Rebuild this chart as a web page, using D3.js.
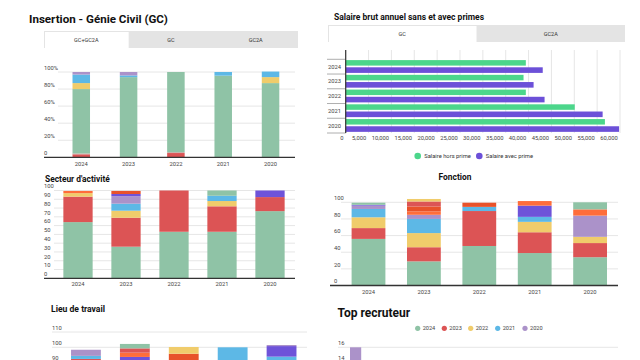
<!DOCTYPE html>
<html><head><meta charset="utf-8">
<script src="https://cdn.jsdelivr.net/npm/d3@7"></script>
<style>body{margin:0;background:#fff}svg{display:block;font-family:Roboto,"Noto Sans",sans-serif}</style>
</head><body><svg id="c" width="640" height="360"></svg>
<script>
// ---------- DATA ----------
const years = ["2024", "2023", "2022", "2021", "2020"];
const C = {green:"#8fc3a6", red:"#dc5455", yellow:"#f0cc6b", blue:"#5db8e6", lpurple:"#ab92c9",
           dpurple:"#6e53d9", orange:"#ff6d3a", orangered:"#e8522a", gray:"#c7a49e"};

// Insertion (percent), bottom -> top
const insertionTabs = ["GC+GC2A", "GC", "GC2A"];
const insRed      = [3.5, 0, 5, 0, 0];
const insOther    = [1, 0, 1, 0, 0];
const insGreen    = [75.5, 94, 94, 95.7, 87];
const insYellow   = [7, 0, 0, 0, 7];
const insBlue     = [10, 2, 0, 4.3, 6.5];
const insPurple   = [3, 4, 0, 0, 0];
const insTicks    = [0, 20, 40, 60, 80, 100];

// Salaire
const salaryTabs = ["GC", "GC2A"];
const salaryHorsPrime = [39400, 38900, 39400, 50100, 56700];
const salaryAvecPrime = [43100, 41100, 43500, 56200, 59800];
const salaryTicks = [0,5000,10000,15000,20000,25000,30000,35000,40000,45000,50000,55000,60000];

// Secteur d'activité, bottom -> top
const secGreen   = [64, 36, 53, 53, 76.5];
const secRed     = [29, 33, 47, 29, 16];
const secYellow  = [4, 8, 0, 6, 0];
const secBlue    = [0, 8, 0, 6, 0];
const secLPurple = [0, 8.5, 0, 0, 0];
const secDPurple = [0, 2.5, 0, 0, 7.5];
const secOrRed   = [0, 3.5, 0, 0, 0];
const secOrange  = [2.5, 0, 0, 0, 0];
const secGreen2  = [0, 0, 0, 6, 0];
const secTicks   = [0,10,20,30,40,50,60,70,80,90,100];

// Fonction, bottom -> top
const fonGreen   = [56, 29, 47.5, 39, 34];
const fonRed     = [13, 17, 42, 25, 17];
const fonYellow  = [13, 17, 0, 12.5, 7.5];
const fonBlue    = [10, 17, 5, 6, 0];
const fonLPurple = [4, 5, 0, 0, 25.5];
const fonDPurple = [1, 0, 0, 13.5, 0];
const fonOrange  = [0, 4, 0, 5.5, 7.5];
const fonOrRed   = [0, 6, 5, 0, 0];
const fonRed2    = [0, 6, 0, 0, 0];
const fonYellow2 = [0, 3, 0, 0, 0];
const fonGreen2  = [2.5, 0, 0, 0, 8.5];
const fonTicks   = [0, 20, 40, 60, 80, 100];

// Lieu de travail, bottom -> top
const lieuGreen   = [55, 45, 50, 40, 50];
const lieuRed     = [37.4, 20, 20, 20, 20];
const lieuOrRed   = [0, 10, 25.8, 0, 0];
const lieuYellow  = [0, 8, 4.4, 0, 0];
const lieuBlue    = [2, 8, 0, 40, 23.9];
const lieuDPurple = [0, 2.7, 0, 0, 6.9];
const lieuLPurple = [4, 0, 0, 0, 0.7];
const lieuOrange  = [0, 2.8, 0, 0, 0];
const lieuRed2    = [0, 2.8, 0, 0, 0];
const lieuGreen2  = [0, 2.9, 0, 0, 0];
const lieuTicks   = [90, 100, 110];   // visible ticks

// Top recruteur (stacked by year)
const recYears = ["2024", "2023", "2022", "2021", "2020"];
const recruteurs = ["Entreprise A", "Entreprise B", "Entreprise C", "Entreprise D", "Entreprise E"];
const rec2024 = [4, 3, 2, 2, 1];
const rec2023 = [3, 2, 2, 1, 1];
const rec2022 = [3, 2, 1, 1, 1];
const rec2021 = [2, 1, 1, 1, 1];
const rec2020 = [4, 2, 1, 1, 1];
const recTicks = [14, 16];            // visible ticks

// ---------- DRAW ----------
const svg = d3.select("#c");
svg.append("rect").attr("width",640).attr("height",360).attr("fill","#fff");
const tickCol = "#444", gridCol = "#e6e6e6", axisCol = "#333";

function title(x, y, txt, size, anchor){
  svg.append("text").attr("x",x).attr("y",y).attr("font-size",size).attr("font-weight","bold")
    .attr("fill","#111").attr("text-anchor",anchor||"start").text(txt);
}
function tabs(x0, x1, y0, y1, labels){
  const g = svg.append("g");
  g.append("rect").attr("x",x0).attr("y",y0).attr("width",x1-x0).attr("height",y1-y0).attr("fill","#e4e4e4");
  const w = (x1-x0)/labels.length;
  labels.forEach((l,i)=>{
    if(i===0) g.append("rect").attr("x",x0+1).attr("y",y0+1).attr("width",w-1).attr("height",y1-y0-1).attr("fill","#fff");
    g.append("text").attr("x",x0+w*i+w/2).attr("y",(y0+y1)/2+2).attr("font-size",5.5)
      .attr("text-anchor","middle").attr("fill","#333").text(l);
  });
}

function stacked(opt){
  const g = svg.append("g");
  const keys = opt.series.map((s,i)=>"s"+i);
  const rows = opt.cats.map((c,j)=>{const r={cat:c}; opt.series.forEach((s,i)=>r["s"+i]=s.v[j]); return r;});
  const x = d3.scaleBand().domain(opt.cats).range([opt.bx0, opt.bx1]).paddingInner(opt.pad).paddingOuter(opt.pad/2);
  const y = d3.scaleLinear().domain(opt.domain).range(opt.yr);
  opt.ticks.forEach(t=>{
    const yy = y(t);
    if(t!==opt.domain[0]) g.append("line").attr("x1",opt.gx0).attr("x2",opt.gx1).attr("y1",yy).attr("y2",yy)
      .attr("stroke",gridCol).attr("stroke-width",1);
    g.append("text").attr("x",opt.lx).attr("y",yy-2.2).attr("font-size",5.8).attr("fill",tickCol).text(opt.fmt?opt.fmt(t):t);
  });
  const st = d3.stack().keys(keys)(rows);
  st.forEach((layer,i)=>{
    g.selectAll(null).data(layer.filter(d=>d[1]-d[0]>0)).enter().append("rect")
      .attr("x",d=>x(d.data.cat)).attr("width",x.bandwidth())
      .attr("y",d=>y(d[1])).attr("height",d=>y(d[0])-y(d[1]))
      .attr("fill",opt.series[i].c);
  });
  if(opt.baseline){
    g.append("line").attr("x1",opt.ax0).attr("x2",opt.gx1).attr("y1",y(0)).attr("y2",y(0)).attr("stroke",axisCol).attr("stroke-width",1.3);
    opt.cats.forEach(c=>g.append("text").attr("x",x(c)+x.bandwidth()/2).attr("y",opt.xly).attr("font-size",5.8)
      .attr("text-anchor","middle").attr("fill",tickCol).text(c));
  }
  return {x,y};
}

// Chart 1: Insertion
title(29, 23, "Insertion - Génie Civil (GC)", 11.6);
tabs(44, 298, 31, 48, insertionTabs);
stacked({cats:years, series:[{v:insRed,c:C.red},{v:insOther,c:C.gray},{v:insGreen,c:C.green},{v:insYellow,c:C.yellow},{v:insBlue,c:C.blue},{v:insPurple,c:C.lpurple}],
  bx0:57.6, bx1:294.2, pad:0.63, domain:[0,100], yr:[157.3,72], ticks:insTicks, fmt:t=>t===0?"0":t+"%",
  lx:44, gx0:58, gx1:295, ax0:44, baseline:true, xly:165.5});

// Chart 2: Salaire
title(334, 20, "Salaire brut annuel sans et avec primes", 8.5);
tabs(328, 625, 25, 42, salaryTabs);
{
  const g = svg.append("g");
  const x = d3.scaleLinear().domain([0,60000]).range([345.7, 620]);
  const yb = d3.scaleBand().domain(years).range([59.3, 133]);
  salaryTicks.forEach(t=>{
    g.append("line").attr("x1",x(t)).attr("x2",x(t)).attr("y1",50).attr("y2",133).attr("stroke",gridCol);
    g.append("text").attr("x",x(t)-2.3).attr("y",140).attr("font-size",5.8).attr("text-anchor","end").attr("fill",tickCol)
      .text(t===0?"0":d3.format(",")(t));
  });
  years.forEach((yr,i)=>{
    const b = yb(yr);
    g.append("rect").attr("x",x(0)).attr("y",b+0.8).attr("width",x(salaryHorsPrime[i])-x(0)).attr("height",5.5).attr("fill","#4cd68b");
    g.append("rect").attr("x",x(0)).attr("y",b+8).attr("width",x(salaryAvecPrime[i])-x(0)).attr("height",5.6).attr("fill","#6c50d8");
    g.append("text").attr("x",341).attr("y",b+yb.bandwidth()/2+2).attr("font-size",5.8).attr("text-anchor","end").attr("fill",tickCol).text(yr);
  });
  [59.3].concat(years.map(yr=>yb(yr)+yb.bandwidth())).forEach(v=>{
    g.append("line").attr("x1",327).attr("x2",345.7).attr("y1",v).attr("y2",v).attr("stroke","#999").attr("stroke-width",0.8);
  });
  g.append("line").attr("x1",345.7).attr("x2",345.7).attr("y1",50).attr("y2",133).attr("stroke",axisCol).attr("stroke-width",1.2);
  const leg = [{t:"Salaire hors prime",c:"#4cd68b",x:417.7},{t:"Salaire avec prime",c:"#6c50d8",x:479.3}];
  leg.forEach(l=>{
    g.append("circle").attr("cx",l.x).attr("cy",156).attr("r",3.3).attr("fill",l.c);
    g.append("text").attr("x",l.x+6.5).attr("y",158).attr("font-size",5.8).attr("fill","#333").text(l.t);
  });
}

// Chart 3: Secteur d'activité
title(45, 182, "Secteur d'activité", 8.4);
stacked({cats:years, series:[{v:secGreen,c:C.green},{v:secRed,c:C.red},{v:secYellow,c:C.yellow},{v:secBlue,c:C.blue},{v:secLPurple,c:C.lpurple},{v:secDPurple,c:C.dpurple},{v:secOrRed,c:C.orangered},{v:secOrange,c:C.orange},{v:secGreen2,c:C.green}],
  bx0:54, bx1:294, pad:0.39, domain:[0,100], yr:[278.3,190.5], ticks:secTicks,
  lx:44, gx0:54, gx1:295, ax0:44, baseline:true, xly:286});

// Chart 4: Fonction
title(455, 180, "Fonction", 8.4, "middle");
stacked({cats:years, series:[{v:fonGreen,c:C.green},{v:fonRed,c:C.red},{v:fonYellow,c:C.yellow},{v:fonBlue,c:C.blue},{v:fonLPurple,c:C.lpurple},{v:fonDPurple,c:C.dpurple},{v:fonOrange,c:C.orange},{v:fonOrRed,c:C.orangered},{v:fonRed2,c:C.red},{v:fonYellow2,c:C.yellow},{v:fonGreen2,c:C.green}],
  bx0:340.8, bx1:617.8, pad:0.39, domain:[0,100], yr:[285.5,202.3], ticks:fonTicks,
  lx:334, gx0:341, gx1:618, ax0:330, baseline:true, xly:294});

// Chart 5: Lieu de travail
title(51, 312, "Lieu de travail", 8.6);
stacked({cats:years, series:[{v:lieuGreen,c:C.green},{v:lieuRed,c:C.red},{v:lieuOrRed,c:C.orangered},{v:lieuYellow,c:C.yellow},{v:lieuBlue,c:C.blue},{v:lieuDPurple,c:C.dpurple},{v:lieuLPurple,c:C.lpurple},{v:lieuOrange,c:C.orange},{v:lieuRed2,c:C.red},{v:lieuGreen2,c:C.green}],
  bx0:61.5, bx1:306, pad:0.39, domain:[0,110], yr:[500.3,332], ticks:lieuTicks,
  lx:52, gx0:52, gx1:307, ax0:52, baseline:false});

// Chart 6: Top recruteur
title(337.5, 317, "Top recruteur", 12);
{
  const g = svg.append("g");
  const legCol = [C.green, C.red, C.yellow, C.blue, C.lpurple];
  const lx = [417.7, 444.3, 470.7, 497.7, 525];
  recYears.forEach((t,i)=>{
    g.append("circle").attr("cx",lx[i]).attr("cy",328.3).attr("r",2.6).attr("fill",legCol[i]);
    g.append("text").attr("x",lx[i]+5).attr("y",330.3).attr("font-size",5.6).attr("fill","#444").text(t);
  });
}
stacked({cats:recruteurs, series:[{v:rec2024,c:C.green},{v:rec2023,c:C.red},{v:rec2022,c:C.yellow},{v:rec2021,c:C.blue},{v:rec2020,c:C.lpurple}],
  bx0:327.6, bx1:607.6, pad:0.8, domain:[0,16], yr:[464.9,347.3], ticks:recTicks,
  lx:338, gx0:338, gx1:618, ax0:338, baseline:false});
</script></body></html>
